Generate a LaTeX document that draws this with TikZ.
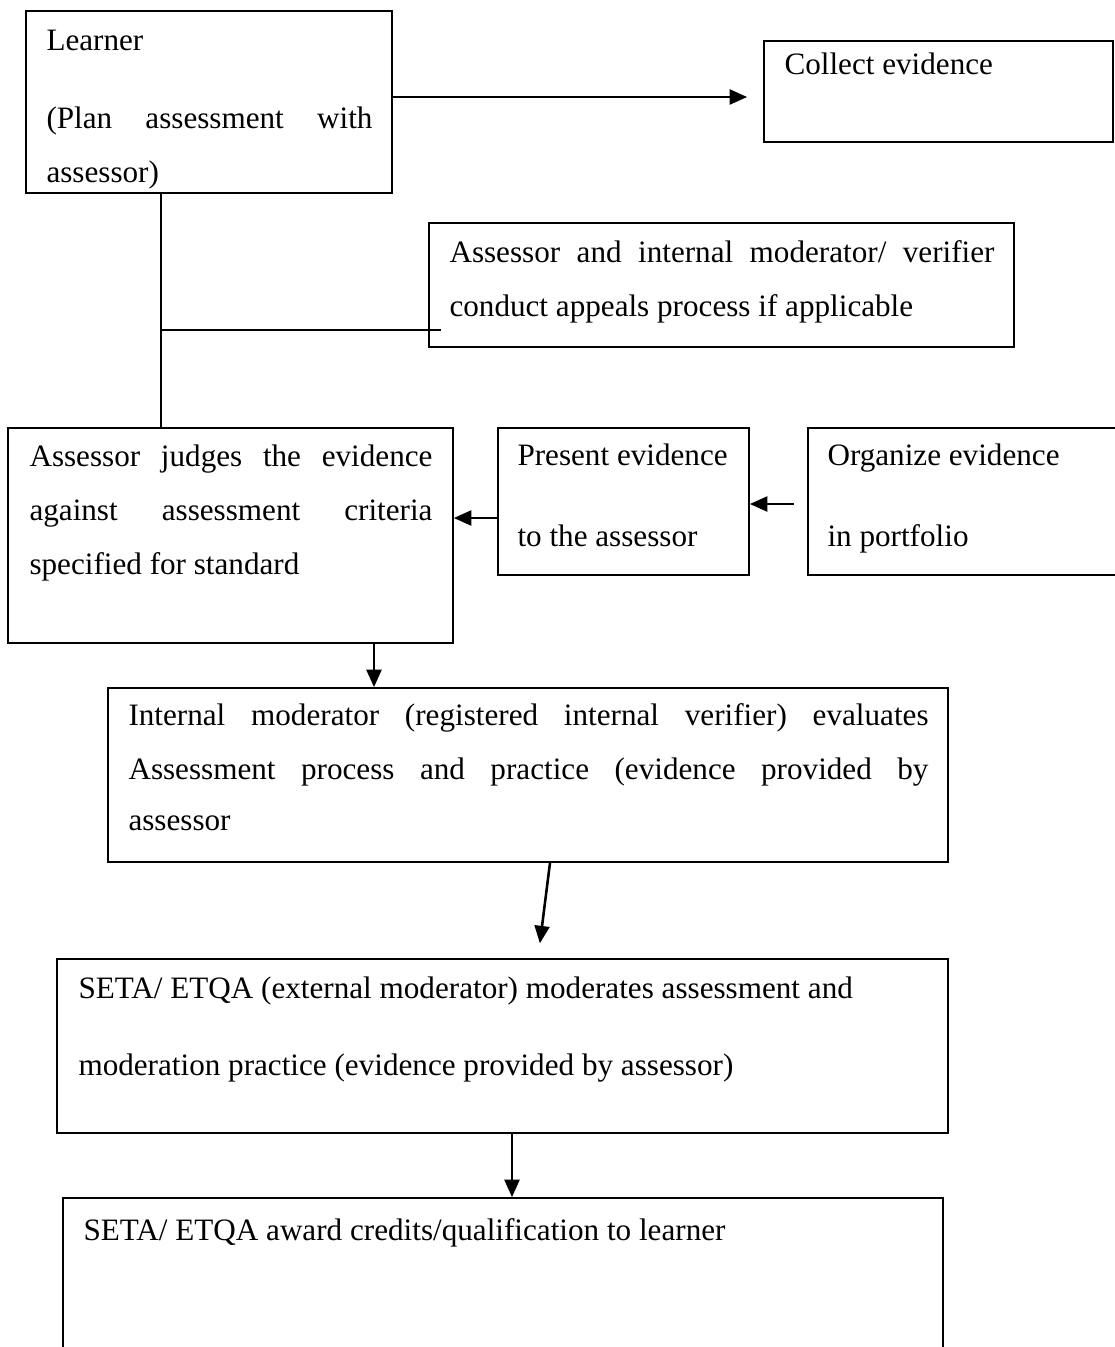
\documentclass[tikz,border=0pt]{standalone}
\usepackage{fontspec}
\setmainfont{Liberation Serif}
\usetikzlibrary{arrows.meta,fit,calc}

\newlength\pxu
\setlength\pxu{0.39pt}
\newcommand\jline[2]{\makebox[#1\pxu][s]{#2}}

\tikzset{
    box/.style={draw, line width=0.65pt, inner sep=0pt},
    txt/.style={anchor=base west, inner sep=0pt, font=\fontsize{12.15}{14}\selectfont},
    link/.style={line width=1pt},
    arr/.style={link, -{Triangle[length=6.8pt, width=5.8pt]}},
}

\begin{document}
\begin{tikzpicture}[x=0.39pt, y=-0.39pt]
        \useasboundingbox (0,0) rectangle (1115,1347);
        \clip (0,0) rectangle (1115,1347);

        % boxes
        \node[box, fit={(26,11) (392,193)}] (learner) {};
        \node[box, fit={(764,41) (1113,142)}] (collect) {};
        \node[box, fit={(429,223) (1014,347)}] (appeals) {};
        \node[box, fit={(8,428) (453,643)}] (judge) {};
        \node[box, fit={(498,428) (749,575)}] (present) {};
        \node[box, fit={(808,428) (1130,575)}] (organize) {};
        \node[box, fit={(108,688) (948,862)}] (internal) {};
        \node[box, fit={(57,959) (948,1133)}] (moderate) {};
        \node[box, fit={(63,1198) (943,1370)}] (award) {};

        % texts
        \node[txt] (learner_1) at (46,50) {Learner};
        \node[txt] (learner_2) at (46,128) {\jline{326}{(Plan assessment with}};
        \node[txt] (learner_3) at (46,182) {assessor)};
        \node[txt] (collect_1) at (784,74) {Collect evidence};
        \node[txt] (appeals_1) at (449,262) {\jline{545}{Assessor and internal moderator/ verifier}};
        \node[txt] (appeals_2) at (449,316) {conduct appeals process if applicable};
        \node[txt] (judge_1) at (29,466) {\jline{403}{Assessor judges the evidence}};
        \node[txt] (judge_2) at (29,520) {\jline{403}{against assessment criteria}};
        \node[txt] (judge_3) at (29,574) {specified for standard};
        \node[txt] (present_1) at (517,465) {Present evidence};
        \node[txt] (present_2) at (517,546) {to the assessor};
        \node[txt] (organize_1) at (827,465) {Organize evidence};
        \node[txt] (organize_2) at (827,546) {in portfolio};
        \node[txt] (internal_1) at (128,725) {\jline{800}{Internal moderator (registered internal verifier) evaluates}};
        \node[txt] (internal_2) at (128,779) {\jline{800}{Assessment process and practice (evidence provided by}};
        \node[txt] (internal_3) at (128,830) {assessor};
        \node[txt] (moderate_1) at (78,998) {SETA/ ETQA (external moderator) moderates assessment and};
        \node[txt] (moderate_2) at (78,1075) {moderation practice (evidence provided by assessor)};
        \node[txt] (award_1) at (83,1240) {SETA/ ETQA award credits/qualification to learner};

        %% connection
        \coordinate (fork) at (161,330);
        \coordinate (fork_end) at ($(appeals.west |- fork)+(13,0)$);
        \draw[arr, shorten >=16\pxu] (learner.east |- 0,97) -- (collect.west |- 0,97);
        \draw[link] (161,0 |- learner.south) -- (161,0 |- judge.north);
        \draw[link] (fork) -- (fork_end);
        \draw[arr] (present.west |- 0,518) -- (judge.east |- 0,518);
        \draw[arr, shorten <=13\pxu] (organize.west |- 0,504) -- (present.east |- 0,504);
        \draw[arr] (374,0 |- judge.south) -- (374,0 |- internal.north);
        \draw[arr, shorten >=15\pxu] (550,0 |- internal.south) -- (538,0 |- moderate.north);
        \draw[arr] (512,0 |- moderate.south) -- (512,0 |- award.north);
    \end{tikzpicture}
\end{document}
